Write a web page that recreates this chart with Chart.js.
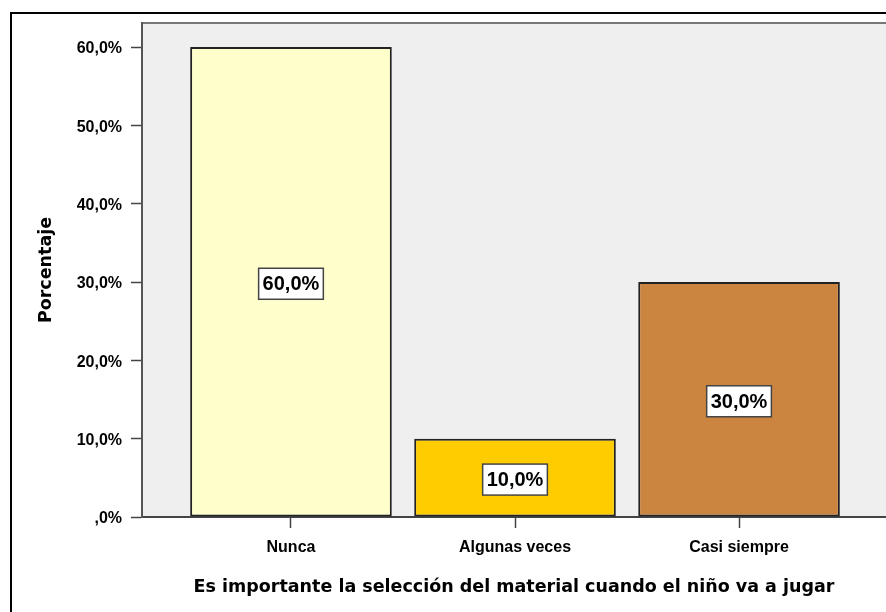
<!DOCTYPE html>
<html>
<head>
<meta charset="utf-8">
<script src="https://cdn.jsdelivr.net/npm/chart.js@4"></script>
<style>
  html, body { margin: 0; padding: 0; background: #fff; overflow: hidden; }
  #wrap { width: 886px; height: 612px; }
</style>
</head>
<body>
<div id="wrap"><canvas id="mychart" width="886" height="612"></canvas></div>
<script>
// データ
const categories = ['Nunca', 'Algunas veces', 'Casi siempre'];
const percents = [60.0, 10.0, 30.0];
const yTicks = [0, 10, 20, 30, 40, 50, 60];
const xTitle = 'Es importante la selección del material cuando el niño va a jugar';
const yTitle = 'Porcentaje';

// 見た目
const barColors = ['#ffffcc', '#ffcc00', '#cc8540'];
const tickFont = { family: '"Liberation Sans", Arial, sans-serif', size: 16, weight: 'bold' };
const titleFont = { family: '"DejaVu Sans", Verdana, sans-serif', size: 17.5, weight: 'bold' };

function pct(v) {
    const s = v.toFixed(1).replace('.', ',');
    return (s.startsWith('0,') ? s.slice(1) : s) + '%';
}

// 背景と枠
const framePlugin = {
    id: 'frame',
    beforeDraw(chart) {
        const c = chart.ctx;
        const a = chart.chartArea;
        c.save();
        c.fillStyle = '#fff';
        c.fillRect(0, 0, chart.width, chart.height);
        c.strokeStyle = '#000';
        c.lineWidth = 2;
        c.strokeRect(11, 13, 1000, 1000);
        c.fillStyle = '#efefef';
        c.fillRect(a.left, a.top, a.right - a.left, a.bottom - a.top);
        c.fillStyle = '#777';
        c.fillRect(a.left, a.top - 1, a.right - a.left, 2);
        c.restore();
    }
};

// 棒の中のラベル
const labelPlugin = {
    id: 'boxLabels',
    afterDatasetsDraw(chart) {
        const c = chart.ctx;
        const meta = chart.getDatasetMeta(0);
        c.save();
        c.font = 'bold 20px "Liberation Sans", Arial, sans-serif';
        c.textAlign = 'center';
        c.textBaseline = 'middle';
        meta.data.forEach((bar, i) => {
            const text = pct(percents[i]);
            const cy = (bar.y + bar.base) / 2 + 2;
            const w = c.measureText(text).width + 8;
            const h = 31;
            c.fillStyle = '#fff';
            c.fillRect(bar.x - w / 2, cy - h / 2, w, h);
            c.strokeStyle = '#444';
            c.lineWidth = 1.5;
            c.strokeRect(bar.x - w / 2, cy - h / 2, w, h);
            c.fillStyle = '#000';
            c.fillText(text, bar.x, cy + 1);
        });
        c.restore();
    }
};

const ctx = document.getElementById('mychart');

const barChart = new Chart(ctx, {
    type: 'bar',
    data: {
        datasets: [{
            data: categories.map((c, i) => ({ x: i, y: percents[i] })),
            backgroundColor: barColors,
            borderColor: '#222',
            borderWidth: 2,
            borderSkipped: false,
            barPercentage: 0.9,
            categoryPercentage: 1
        }]
    },
    options: {
        responsive: false,
        animation: false,
        events: [],
        layout: { padding: { top: 23, right: 0, bottom: 0, left: 0 } },
        plugins: {
            legend: { display: false },
            tooltip: { enabled: false }
        },
        scales: {
            x: {
                type: 'linear',
                min: -0.665,
                max: 2.656,
                offset: false,
                afterBuildTicks: (scale) => {
                    scale.ticks = categories.map((c, i) => ({ value: i }));
                },
                afterFit: (scale) => { scale.height = 95; },
                ticks: {
                    color: '#000',
                    font: tickFont,
                    padding: 10,
                    maxRotation: 0,
                    autoSkip: false,
                    callback: (v) => categories[v]
                },
                grid: {
                    offset: false,
                    drawOnChartArea: false,
                    drawTicks: true,
                    tickLength: 11,
                    tickColor: '#444',
                    tickWidth: 1.5
                },
                border: { display: true, color: '#444', width: 2 },
                title: {
                    display: true,
                    text: xTitle,
                    color: '#000',
                    font: titleFont,
                    padding: { top: 0, bottom: 14 }
                }
            },
            y: {
                min: 0,
                max: 63.07,
                afterBuildTicks: (scale) => {
                    scale.ticks = yTicks.map(v => ({ value: v }));
                },
                afterFit: (scale) => { scale.width = 142; },
                ticks: {
                    color: '#000',
                    font: tickFont,
                    padding: 9,
                    labelOffset: 2,
                    callback: (v) => pct(v)
                },
                grid: {
                    drawOnChartArea: false,
                    drawTicks: true,
                    tickLength: 11,
                    tickColor: '#444',
                    tickWidth: 1.5
                },
                border: { display: true, color: '#555', width: 2 },
                title: {
                    display: true,
                    text: yTitle,
                    color: '#000',
                    font: titleFont,
                    padding: { top: 36, bottom: 0 }
                }
            }
        }
    },
    plugins: [framePlugin, labelPlugin]
});
</script>
</body>
</html>
